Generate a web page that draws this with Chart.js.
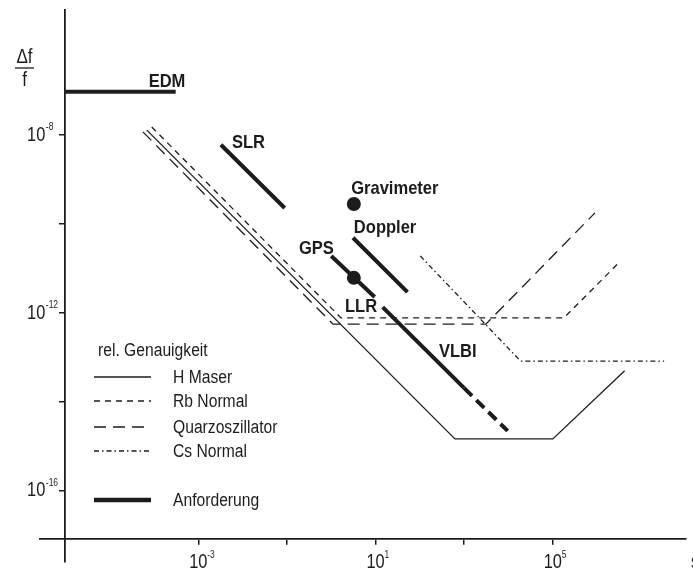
<!DOCTYPE html>
<html>
<head>
<meta charset="utf-8">
<script src="https://cdn.jsdelivr.net/npm/chart.js@4/dist/chart.umd.min.js"></script>
<style>
  html, body { margin: 0; padding: 0; background: #fff; }
  #wrap { width: 693px; height: 572px; }
</style>
</head>
<body>
<div id="wrap"><canvas id="c" width="693" height="572"></canvas></div>
<script>
// Averaging time τ in seconds and relative stability Δf/f, both as powers of ten.

// Frequency standards
const hMaserTau  = [-4.16, 2.79, 5.00, 6.62];
const hMaserAcc  = [-7.89, -14.83, -14.83, -13.30];
const rbTau      = [-4.05, 0.22, 5.25, 6.46];
const rbAcc      = [-7.82, -12.11, -12.11, -10.90];
const quartzTau  = [-4.25, 0.04, 3.49, 5.95];
const quartzAcc  = [-7.93, -12.25, -12.25, -9.75];
const csTau      = [2.01, 4.27, 7.51];
const csAcc      = [-10.72, -13.08, -13.08];

// Requirements of the measuring techniques
const edmTau     = [-6.00, -3.51];
const edmAcc     = [-7.03, -7.03];
const slrTau     = [-2.49, -1.05];
const slrAcc     = [-8.22, -9.64];
const dopplerTau = [0.49, 1.72];
const dopplerAcc = [-10.31, -11.53];
const gpsTau     = [0.00, 0.98];
const gpsAcc     = [-10.72, -11.64];
const vlbiTau    = [1.16, 3.00];
const vlbiAcc    = [-11.87, -13.69];
const vlbiExtTau = [3.00, 3.98];
const vlbiExtAcc = [-13.69, -14.65];
const pointTau   = [0.51, 0.51];      // Gravimeter, GPS
const pointAcc   = [-9.55, -11.21];

// Technique names and where they sit (powers of ten)
const techNames  = ['EDM', 'SLR', 'Gravimeter', 'Doppler', 'GPS', 'LLR', 'VLBI'];
const techTau    = [-4.12, -2.24, 0.45, 0.51, -0.73, 0.31, 2.43];
const techAcc    = [-6.92, -8.29, -9.33, -10.20, -10.67, -11.98, -12.99];

// Axes
const xTickExp   = [-3, -1, 1, 3, 5];
const xTickText  = ['-3', '', '1', '', '5'];
const yTickExp   = [-8, -10, -12, -14, -16];
const yTickText  = ['-8', '', '-12', '', '-16'];
const xRange     = [-6.571, 8.004];
const yRange     = [-17.596, -5.191];
const yAxisAtTau = -6;
const xAxisAtAcc = -17.079;

// Legend
const legendTitle  = 'rel. Genauigkeit';
const legendLabels = ['H Maser', 'Rb Normal', 'Quarzoszillator', 'Cs Normal', 'Anforderung'];

const FONT = '"Liberation Sans", Arial, sans-serif';
const INK = '#1c1c1c';
const THIN = 1.3, THICK = 4;
const DASH_RB = [6, 5], DASH_QZ = [12, 7], DASH_CS = [5, 3, 1.5, 3];

const pow = e => Math.pow(10, e);
const pts = (t, a) => t.map((v, i) => ({ x: pow(v), y: pow(a[i]) }));

function lineSet(label, t, a, width, dash) {
  return {
    label, data: pts(t, a), borderColor: INK, borderWidth: width,
    borderDash: dash || [], borderCapStyle: 'butt', borderJoinStyle: 'miter',
    pointRadius: 0, fill: false, tension: 0
  };
}

const datasets = [
  { label: 'Punkte', data: pts(pointTau, pointAcc), showLine: false,
    pointRadius: 7, pointBackgroundColor: INK, pointBorderWidth: 0, borderColor: INK },
  lineSet('EDM', edmTau, edmAcc, THICK),
  lineSet('SLR', slrTau, slrAcc, THICK),
  lineSet('Doppler', dopplerTau, dopplerAcc, THICK),
  lineSet('GPS', gpsTau, gpsAcc, THICK),
  lineSet('LLR/VLBI', vlbiTau, vlbiAcc, THICK),
  lineSet('VLBI (Ausblick)', vlbiExtTau, vlbiExtAcc, THICK, [11, 6]),
  lineSet('H Maser', hMaserTau, hMaserAcc, THIN),
  lineSet('Rb Normal', rbTau, rbAcc, THIN, DASH_RB),
  lineSet('Quarzoszillator', quartzTau, quartzAcc, THIN, DASH_QZ),
  lineSet('Cs Normal', csTau, csAcc, THIN, DASH_CS)
];

// condensed text: horizontally squeezed glyphs
function text(ctx, s, x, y, font, align, baseline, sx) {
  ctx.save();
  ctx.font = font;
  ctx.textAlign = align;
  ctx.textBaseline = baseline;
  ctx.translate(x, y);
  ctx.scale(sx, 1);
  ctx.fillText(s, 0, 0);
  ctx.restore();
}

const annotate = {
  id: 'annotate',
  beforeDraw(chart) {
    const { ctx } = chart;
    ctx.save();
    ctx.fillStyle = '#fff';
    ctx.fillRect(0, 0, chart.width, chart.height);
    ctx.restore();
  },
  afterDraw(chart) {
    const { ctx } = chart;
    const xs = chart.scales.x, ys = chart.scales.y;
    const axX = xs.getPixelForValue(pow(yAxisAtTau));
    const axY = ys.getPixelForValue(pow(xAxisAtAcc));
    const big = '20px ' + FONT, sup = '10px ' + FONT;
    ctx.save();
    ctx.fillStyle = INK;
    ctx.strokeStyle = INK;

    // tick labels with superscript exponents
    xTickExp.forEach((e, i) => {
      if (!xTickText[i]) return;
      const px = xs.getPixelForValue(pow(e));
      text(ctx, '10', px, axY + 23.5, big, 'center', 'middle', 0.82);
      text(ctx, xTickText[i], px + 9, axY + 16, sup, 'left', 'middle', 0.85);
    });
    yTickExp.forEach((e, i) => {
      if (!yTickText[i]) return;
      const py = ys.getPixelForValue(pow(e));
      text(ctx, '10', axX - 20, py, big, 'right', 'middle', 0.82);
      text(ctx, yTickText[i], axX - 19.5, py - 8, sup, 'left', 'middle', 0.85);
    });

    // unit of the time axis
    text(ctx, 's', chart.width - 2, axY + 23.5, big, 'left', 'middle', 0.8);

    // Δf / f as a fraction
    text(ctx, 'Δf', 24.5, 57, big, 'center', 'middle', 0.85);
    text(ctx, 'f', 24.5, 80, big, 'center', 'middle', 0.85);
    ctx.lineWidth = 1.3;
    ctx.beginPath(); ctx.moveTo(15, 68); ctx.lineTo(34, 68); ctx.stroke();

    // technique names
    techNames.forEach((n, i) => {
      text(ctx, n, xs.getPixelForValue(pow(techTau[i])), ys.getPixelForValue(pow(techAcc[i])),
           'bold 19px ' + FONT, 'left', 'alphabetic', 0.87);
    });

    // legend
    const reg = '18px ' + FONT;
    text(ctx, legendTitle, 98, 351, reg, 'left', 'middle', 0.87);
    const rowsY = [377, 401, 427, 451, 500];
    const dashes = [[], DASH_RB, DASH_QZ, DASH_CS, []];
    const widths = [THIN, THIN, THIN, THIN, 4.5];
    legendLabels.forEach((lab, i) => {
      ctx.setLineDash(dashes[i]);
      ctx.lineWidth = widths[i];
      ctx.beginPath(); ctx.moveTo(94, rowsY[i]); ctx.lineTo(151, rowsY[i]); ctx.stroke();
      text(ctx, lab, 173, rowsY[i] + 1, reg, 'left', 'middle', 0.87);
    });
    ctx.restore();
  }
};

const axisCommon = {
  type: 'logarithmic',
  grid: { display: true, drawOnChartArea: false, drawTicks: true, tickLength: 5,
          color: INK, lineWidth: 1.5 },
  border: { display: true, color: INK, width: 1.8 },
  ticks: { display: false }
};

new Chart(document.getElementById('c'), {
  type: 'line',
  data: { datasets },
  options: {
    responsive: false,
    animation: false,
    layout: { padding: { left: 40, right: 0, top: 10, bottom: 10 } },
    plugins: { legend: { display: false }, tooltip: { enabled: false } },
    scales: {
      x: Object.assign({}, axisCommon, {
        axis: 'x',
        min: pow(xRange[0]), max: pow(xRange[1]),
        position: { y: pow(xAxisAtAcc) },
        afterBuildTicks: s => { s.ticks = xTickExp.map(e => ({ value: pow(e) })); }
      }),
      y: Object.assign({}, axisCommon, {
        axis: 'y',
        min: pow(yRange[0]), max: pow(yRange[1]),
        position: { x: pow(yAxisAtTau) },
        afterBuildTicks: s => { s.ticks = yTickExp.map(e => ({ value: pow(e) })); }
      })
    }
  },
  plugins: [annotate]
});
</script>
</body>
</html>
